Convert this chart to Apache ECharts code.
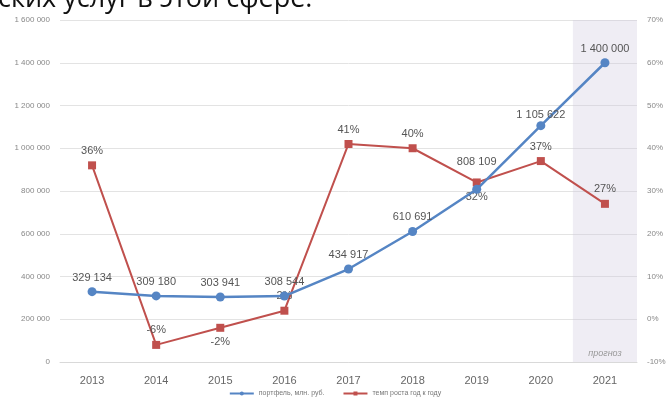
<!DOCTYPE html>
<html>
<head>
<meta charset="utf-8">
<script src="https://cdn.jsdelivr.net/npm/echarts@6/dist/echarts.min.js"></script>
<style>
  html, body, #main { width: 670px; height: 403px; margin: 0; background: #fff; }
</style>
</head>
<body>
<div id="main"></div>
<script>
var years = ['2013', '2014', '2015', '2016', '2017', '2018', '2019', '2020', '2021'];
var portfolio = [329134, 309180, 303941, 308544, 434917, 610691, 808109, 1105622, 1400000];
var growth = [36, -6, -2, 2, 41, 40, 32, 37, 27];
var forecast = [null, null, null, null, null, null, null, null, 1600000];

function spaced(n) {
  return String(n).replace(/\B(?=(\d{3})+(?!\d))/g, ' ');
}

var chart = echarts.init(document.getElementById('main'));

// a few labels sit below the point or further up, as in the picture
var growthBelow = { '2015': true, '2019': true };
var portfolioDist = { '2019': 17, '2020': 1 };

chart.setOption({
  animation: false,
  textStyle: { fontFamily: 'Liberation Sans, Arial, sans-serif' },
  graphic: [{
    type: 'text',
    left: -2,
    top: -14,
    style: { text: 'ских услуг в этой сфере.', fontSize: 27, fill: '#111', fontFamily: 'Open Sans, sans-serif' }
  }],
  grid: { left: 60, right: 33, top: 20, bottom: 41 },
  legend: {
    bottom: 1,
    left: 'center',
    data: ['портфель, млн. руб.', 'темп роста год к году'],
    itemWidth: 24,
    itemHeight: 5,
    itemGap: 18,
    textStyle: { fontSize: 7, color: '#777' }
  },
  xAxis: {
    type: 'category',
    data: years,
    axisLine: { lineStyle: { color: '#d9d9d9' } },
    axisTick: { show: false },
    axisLabel: { color: '#666', fontSize: 11, margin: 13 }
  },
  yAxis: [{
    type: 'value',
    min: 0, max: 1600000, interval: 200000,
    axisLabel: { color: '#888', fontSize: 8, formatter: spaced, margin: 10 },
    splitLine: { lineStyle: { color: '#e3e3e3' } }
  }, {
    type: 'value',
    min: -10, max: 70, interval: 10,
    position: 'right',
    axisLabel: { color: '#888', fontSize: 8, formatter: '{value}%', margin: 10 },
    splitLine: { show: false }
  }],
  series: [{
    type: 'bar',
    data: forecast,
    barWidth: '100%',
    silent: true,
    z: 0,
    itemStyle: { color: 'rgba(205,200,222,0.33)' },
    label: {
      show: true, position: 'insideBottom', distance: 4,
      formatter: 'прогноз', color: '#999', fontSize: 9, fontStyle: 'italic'
    }
  }, {
    name: 'портфель, млн. руб.',
    type: 'line',
    data: portfolio.map(function (v, i) {
      var d = portfolioDist[years[i]];
      return d === undefined ? v : { value: v, label: { distance: d } };
    }),
    symbol: 'circle',
    symbolSize: 9,
    z: 3,
    itemStyle: { color: '#5585c4' },
    lineStyle: { color: '#5585c4', width: 2.5 },
    label: {
      show: true, position: 'top', distance: 4, color: '#555', fontSize: 11,
      formatter: function (p) { return spaced(p.value); }
    }
  }, {
    name: 'темп роста год к году',
    type: 'line',
    yAxisIndex: 1,
    data: growth.map(function (v, i) {
      return growthBelow[years[i]]
        ? { value: v, label: { position: 'bottom' } }
        : v;
    }),
    symbol: 'rect',
    symbolSize: 8,
    z: 2,
    itemStyle: { color: '#c0504d' },
    lineStyle: { color: '#c0504d', width: 2 },
    label: { show: true, position: 'top', distance: 5, color: '#555', fontSize: 11, formatter: '{c}%' }
  }]
});
</script>
</body>
</html>
